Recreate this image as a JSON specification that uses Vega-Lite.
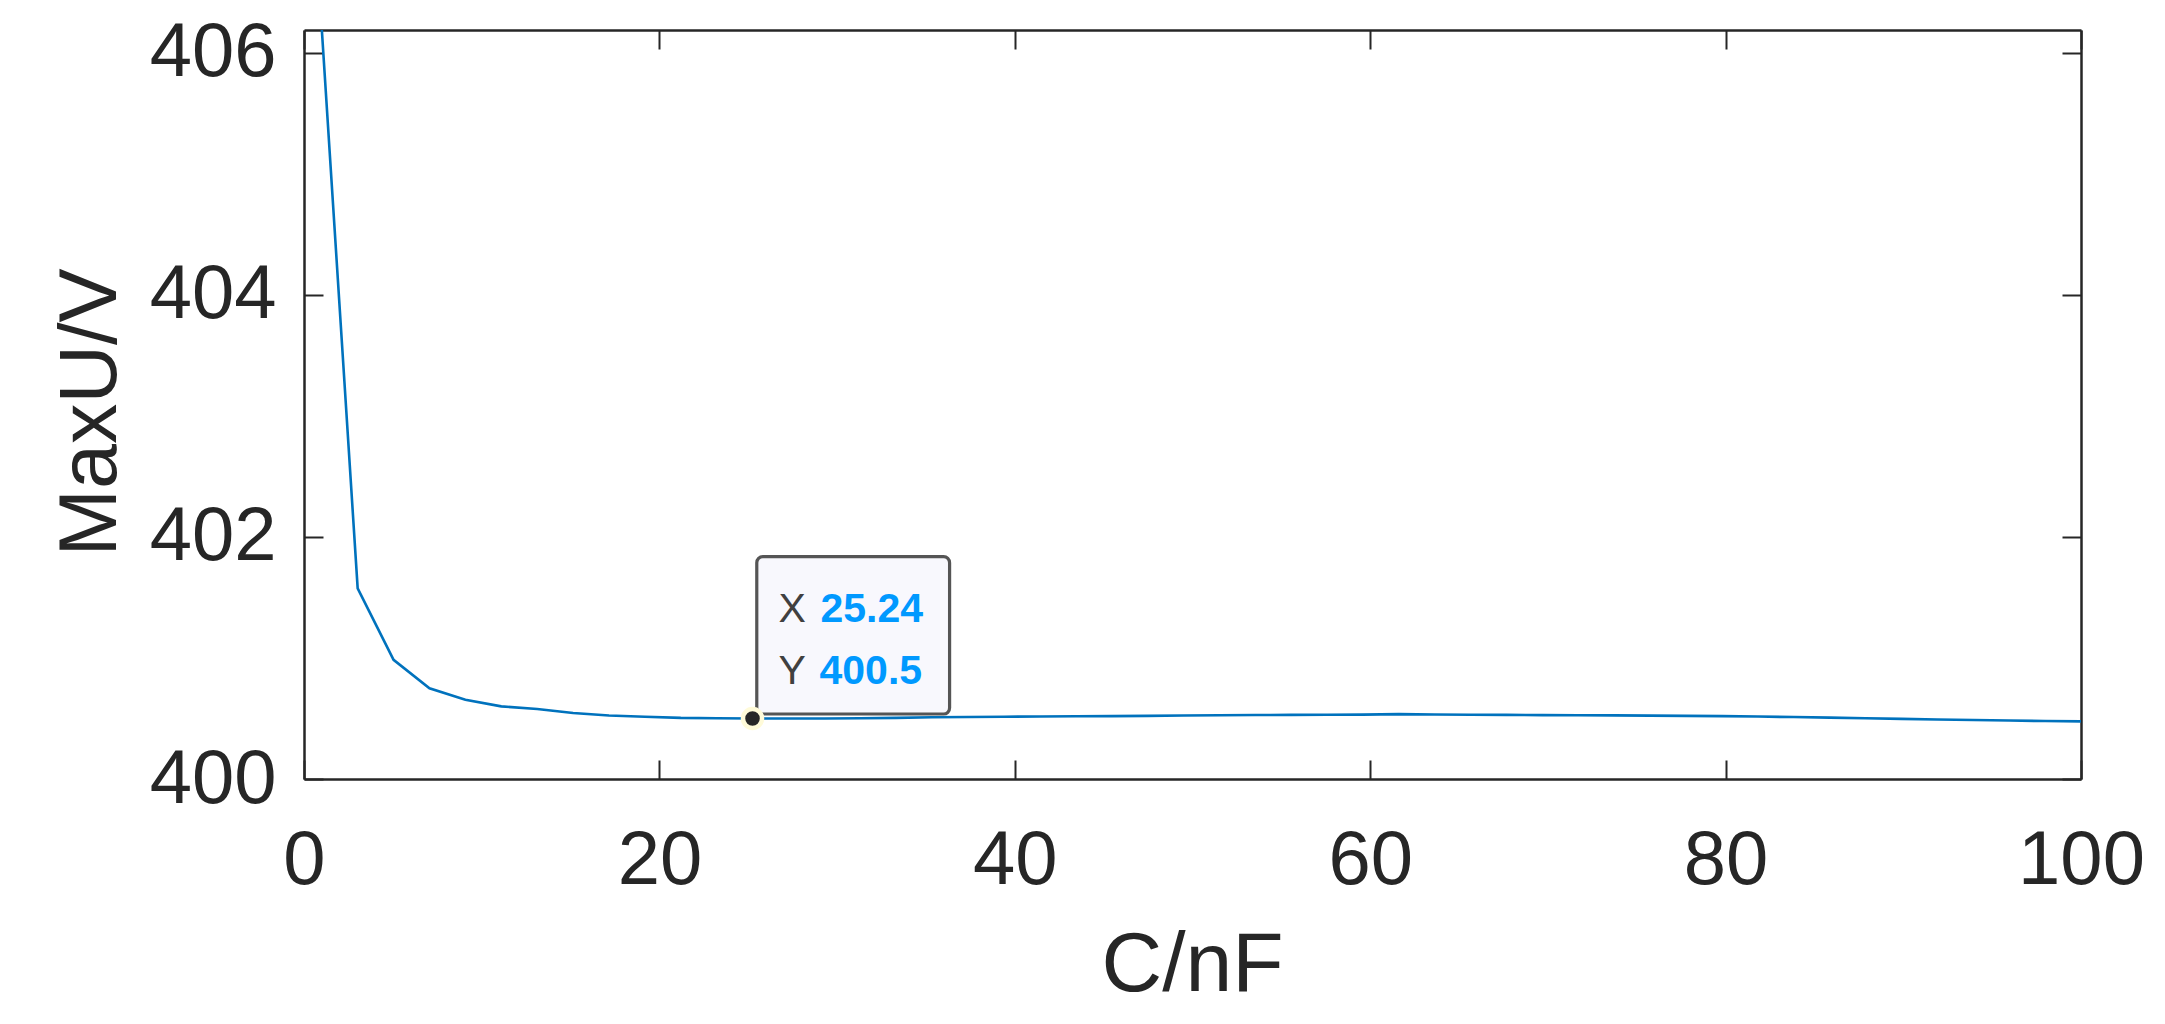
{
  "$schema": "https://vega.github.io/schema/vega-lite/v6.json",
  "autosize": {"type": "none"},
  "width": 1777,
  "height": 749,
  "padding": {"left": 304, "top": 30, "right": 84, "bottom": 245},
  "background": "white",
  "config": {
    "view": {"stroke": null},
    "font": "Liberation Sans",
    "axis": {
      "domainColor": "#262626",
      "domainWidth": 2.5,
      "tickColor": "#262626",
      "tickWidth": 2,
      "tickSize": -19,
      "grid": false,
      "labelFont": "Liberation Sans",
      "labelFontSize": 76,
      "labelColor": "#262626",
      "labelFlush": false,
      "labelOverlap": false,
      "titleFont": "Liberation Sans",
      "titleFontSize": 84,
      "titleFontWeight": "normal",
      "titleColor": "#262626"
    }
  },
  "datasets": {
    "curve": [
      {"C": 1, "U": 406.2},
      {"C": 3.0204, "U": 401.575},
      {"C": 5.0408, "U": 400.985},
      {"C": 7.0612, "U": 400.75},
      {"C": 9.0816, "U": 400.655},
      {"C": 11.102, "U": 400.6},
      {"C": 13.1224, "U": 400.578},
      {"C": 15.1429, "U": 400.545},
      {"C": 17.1633, "U": 400.525},
      {"C": 19.1837, "U": 400.515},
      {"C": 21.2041, "U": 400.505},
      {"C": 23.2245, "U": 400.502},
      {"C": 25.2449, "U": 400.5},
      {"C": 27.2653, "U": 400.5},
      {"C": 29.2857, "U": 400.5},
      {"C": 31.3061, "U": 400.502},
      {"C": 33.3265, "U": 400.505},
      {"C": 35.3469, "U": 400.51},
      {"C": 37.3673, "U": 400.513},
      {"C": 39.3878, "U": 400.515},
      {"C": 41.4082, "U": 400.516},
      {"C": 43.4286, "U": 400.518},
      {"C": 45.449, "U": 400.52},
      {"C": 47.4694, "U": 400.522},
      {"C": 49.4898, "U": 400.525},
      {"C": 51.5102, "U": 400.527},
      {"C": 53.5306, "U": 400.529},
      {"C": 55.551, "U": 400.53},
      {"C": 57.5714, "U": 400.531},
      {"C": 59.5918, "U": 400.532},
      {"C": 61.6122, "U": 400.536},
      {"C": 63.6327, "U": 400.533},
      {"C": 65.6531, "U": 400.531},
      {"C": 67.6735, "U": 400.53},
      {"C": 69.6939, "U": 400.528},
      {"C": 71.7143, "U": 400.527},
      {"C": 73.7347, "U": 400.526},
      {"C": 75.7551, "U": 400.524},
      {"C": 77.7755, "U": 400.522},
      {"C": 79.7959, "U": 400.52},
      {"C": 81.8163, "U": 400.516},
      {"C": 83.8367, "U": 400.512},
      {"C": 85.8571, "U": 400.507},
      {"C": 87.8776, "U": 400.502},
      {"C": 89.898, "U": 400.497},
      {"C": 91.9184, "U": 400.492},
      {"C": 93.9388, "U": 400.487},
      {"C": 95.9592, "U": 400.483},
      {"C": 97.9796, "U": 400.479},
      {"C": 100, "U": 400.476}
    ],
    "tip": [
      {"C": 25.24, "U": 400.5, "xs": "25.24", "ys": "400.5"}
    ]
  },
  "resolve": {"axis": {"x": "independent", "y": "independent"}},
  "layer": [
    {
      "data": {"name": "curve"},
      "mark": {"type": "line", "color": "#0072BD", "strokeWidth": 2.6, "clip": true},
      "encoding": {
        "x": {
          "field": "C", "type": "quantitative",
          "scale": {"domain": [0, 100], "nice": false, "zero": false},
          "axis": {
            "orient": "bottom",
            "values": [0, 20, 40, 60, 80, 100],
            "labelBaseline": "alphabetic",
            "labelPadding": 123,
            "title": "C/nF",
            "titleX": 888,
            "titleY": 211,
            "titleBaseline": "alphabetic",
            "titleAlign": "center"
          }
        },
        "y": {
          "field": "U", "type": "quantitative",
          "scale": {"domain": [400, 406.19], "nice": false, "zero": false},
          "axis": {
            "orient": "left",
            "values": [400, 402, 404, 406],
            "labelPadding": 47,
            "title": "MaxU/V",
            "titleX": -189,
            "titleY": 382,
            "titleFontSize": 81,
            "titleAngle": 270,
            "titleBaseline": "alphabetic",
            "titleAlign": "center"
          }
        }
      }
    },
    {
      "data": {"name": "tip"},
      "mark": {"type": "rect", "fill": "#f8f8fd", "stroke": "#555555", "strokeWidth": 3.2, "cornerRadius": 6},
      "encoding": {
        "x": {"datum": 25.48, "type": "quantitative",
          "axis": {"orient": "top", "values": [0, 20, 40, 60, 80, 100], "labels": false, "title": null}},
        "x2": {"datum": 36.33},
        "y": {"datum": 400.537, "type": "quantitative",
          "axis": {"orient": "right", "values": [400, 402, 404, 406], "labels": false, "title": null}},
        "y2": {"datum": 401.837}
      }
    },
    {
      "data": {"name": "tip"},
      "mark": {"type": "point", "filled": true, "fill": "#262626", "size": 363, "stroke": "#fffbd9", "strokeWidth": 4.5, "opacity": 1, "strokeOpacity": 1},
      "encoding": {
        "x": {"field": "C", "type": "quantitative", "axis": null},
        "y": {"field": "U", "type": "quantitative", "axis": null}
      }
    },
    {
      "data": {"name": "tip"},
      "mark": {"type": "text", "text": "X", "font": "Liberation Sans", "fontSize": 41, "color": "#404040", "align": "left", "baseline": "alphabetic", "dx": 26, "dy": -96},
      "encoding": {
        "x": {"field": "C", "type": "quantitative", "axis": null},
        "y": {"field": "U", "type": "quantitative", "axis": null}
      }
    },
    {
      "data": {"name": "tip"},
      "mark": {"type": "text", "text": "Y", "font": "Liberation Sans", "fontSize": 41, "color": "#404040", "align": "left", "baseline": "alphabetic", "dx": 26, "dy": -34},
      "encoding": {
        "x": {"field": "C", "type": "quantitative", "axis": null},
        "y": {"field": "U", "type": "quantitative", "axis": null}
      }
    },
    {
      "data": {"name": "tip"},
      "mark": {"type": "text", "font": "Liberation Sans", "fontSize": 41, "fontWeight": "bold", "color": "#0099ff", "align": "left", "baseline": "alphabetic", "dx": 68, "dy": -96},
      "encoding": {
        "x": {"field": "C", "type": "quantitative", "axis": null},
        "y": {"field": "U", "type": "quantitative", "axis": null},
        "text": {"field": "xs"}
      }
    },
    {
      "data": {"name": "tip"},
      "mark": {"type": "text", "font": "Liberation Sans", "fontSize": 41, "fontWeight": "bold", "color": "#0099ff", "align": "left", "baseline": "alphabetic", "dx": 67, "dy": -34},
      "encoding": {
        "x": {"field": "C", "type": "quantitative", "axis": null},
        "y": {"field": "U", "type": "quantitative", "axis": null},
        "text": {"field": "ys"}
      }
    }
  ]
}
